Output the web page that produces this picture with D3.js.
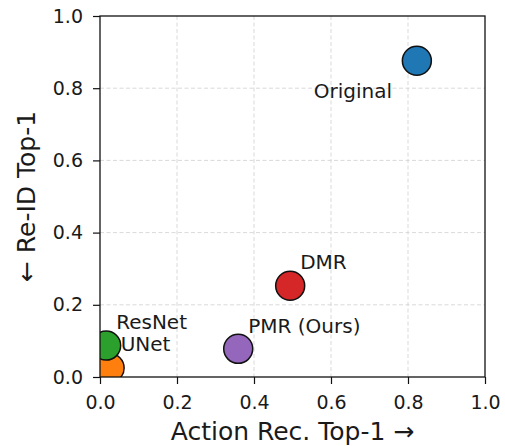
<!DOCTYPE html>
<html>
<head>
<meta charset="utf-8">
<script src="https://cdnjs.cloudflare.com/ajax/libs/d3/7.8.5/d3.min.js"></script>
<style>
  body { margin: 0; background: #fff; }
  text { font-family: "DejaVu Sans", sans-serif; fill: #1a1a1a; }
</style>
</head>
<body>
<div id="my_dataviz"></div>
<script>
// data
var methods = ["Original", "UNet", "ResNet", "DMR", "PMR (Ours)"];
var actionTop1 = [0.823, 0.025, 0.016, 0.494, 0.359];
var reidTop1 = [0.876, 0.025, 0.087, 0.253, 0.078];
var colors = ["#1f77b4", "#ff7f0e", "#2ca02c", "#d62728", "#9467bd"];
var tickValues = [0, 0.2, 0.4, 0.6, 0.8, 1.0];

// label placement (pixels from the marker centre)
var labelDx = [-103, 11, 10, 10, 10];
var labelDy = [37, -17, -17, -17, -16];

var data = methods.map(function(m, i) {
  return {name: m, x: actionTop1[i], y: reidTop1[i], color: colors[i], dx: labelDx[i], dy: labelDy[i]};
});

// set the dimensions and margins of the graph
var margin = {top: 16, right: 20, bottom: 69, left: 100},
    width = 505 - margin.left - margin.right,
    height = 446 - margin.top - margin.bottom;

var svg = d3.select("#my_dataviz")
  .append("svg")
    .attr("width", width + margin.left + margin.right)
    .attr("height", height + margin.top + margin.bottom)
  .append("g")
    .attr("transform", "translate(" + margin.left + "," + margin.top + ")");

var x = d3.scaleLinear().domain([0, 1]).range([0, width]);
var y = d3.scaleLinear().domain([0, 1]).range([height, 0]);

// grid
svg.append("g")
  .selectAll("line")
  .data(tickValues.slice(1, -1))
  .enter().append("line")
    .attr("x1", function(d) { return x(d); })
    .attr("x2", function(d) { return x(d); })
    .attr("y1", 0).attr("y2", height)
    .attr("stroke", "#cfcfcf").attr("stroke-width", 0.8)
    .attr("stroke-dasharray", "4,2.5");
svg.append("g")
  .selectAll("line")
  .data(tickValues.slice(1, -1))
  .enter().append("line")
    .attr("y1", function(d) { return y(d); })
    .attr("y2", function(d) { return y(d); })
    .attr("x1", 0).attr("x2", width)
    .attr("stroke", "#cfcfcf").attr("stroke-width", 0.8)
    .attr("stroke-dasharray", "4,2.5");

// clip for the markers
svg.append("clipPath").attr("id", "plotclip")
  .append("rect").attr("width", width).attr("height", height);

svg.append("g")
  .attr("clip-path", "url(#plotclip)")
  .selectAll("circle")
  .data(data)
  .enter().append("circle")
    .attr("cx", function(d) { return x(d.x); })
    .attr("cy", function(d) { return y(d.y); })
    .attr("r", 14.5)
    .attr("fill", function(d) { return d.color; })
    .attr("stroke", "#111")
    .attr("stroke-width", 1.5);

// point labels
svg.append("g")
  .selectAll("text")
  .data(data)
  .enter().append("text")
    .attr("x", function(d) { return x(d.x) + d.dx; })
    .attr("y", function(d) { return y(d.y) + d.dy; })
    .style("font-size", "20px")
    .text(function(d) { return d.name; });

// axes
var xAxis = svg.append("g")
  .attr("transform", "translate(0," + height + ")")
  .call(d3.axisBottom(x).tickValues(tickValues).tickFormat(d3.format(".1f"))
    .tickSizeInner(7).tickSizeOuter(0).tickPadding(12));
var yAxis = svg.append("g")
  .call(d3.axisLeft(y).tickValues(tickValues).tickFormat(d3.format(".1f"))
    .tickSizeInner(7).tickSizeOuter(0).tickPadding(10));
[xAxis, yAxis].forEach(function(a) {
  a.select(".domain").remove();
  a.selectAll("line").attr("stroke", "#111").attr("stroke-width", 1.2);
  a.selectAll("text").style("font-size", "19px").attr("fill", "#1a1a1a")
    .style("font-family", "DejaVu Sans, sans-serif");
});

// frame
svg.append("rect")
  .attr("width", width).attr("height", height)
  .attr("fill", "none").attr("stroke", "#111").attr("stroke-width", 1.3);

// axis titles
svg.append("text")
  .attr("x", width / 2)
  .attr("y", height + 63)
  .style("text-anchor", "middle")
  .style("font-size", "25px")
  .text("Action Rec. Top-1 \u2192");

svg.append("text")
  .attr("transform", "rotate(-90)")
  .attr("x", -height / 2)
  .attr("y", 35 - margin.left)
  .style("text-anchor", "middle")
  .style("font-size", "25px")
  .text("\u2190 Re-ID Top-1");
</script>
</body>
</html>
